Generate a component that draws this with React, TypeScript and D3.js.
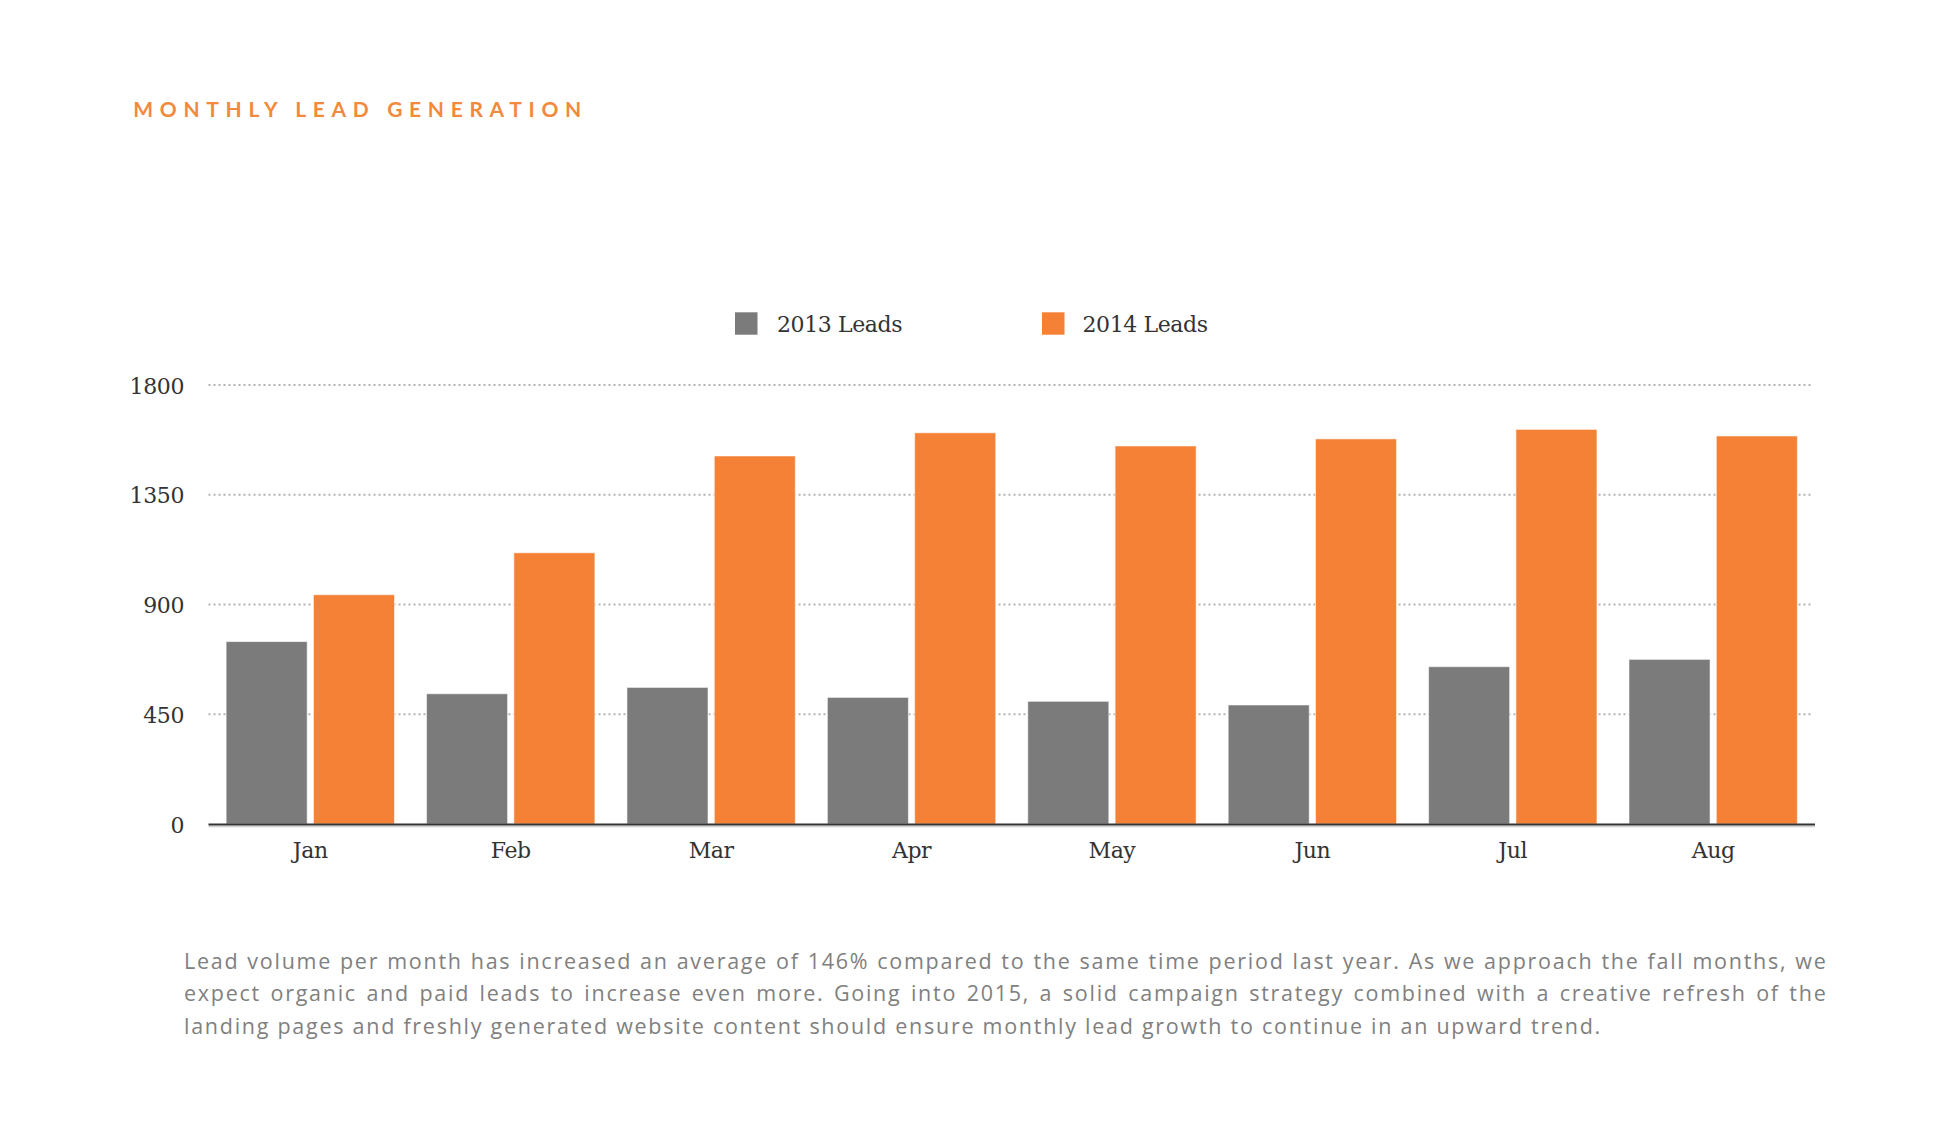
import React, { useLayoutEffect, useRef, useState } from "react";
import * as d3 from "d3";

const MONTHS = ["Jan", "Feb", "Mar", "Apr", "May", "Jun", "Jul", "Aug"];
const SERIES = ["2013 Leads", "2014 Leads"];
const LEADS_2013 = [748, 534, 560, 519, 503, 488, 645, 675];
const LEADS_2014 = [940, 1112, 1509, 1604, 1550, 1579, 1618, 1591];
const Y_TICKS = [0, 450, 900, 1350, 1800];
const TITLE = "MONTHLY LEAD GENERATION";
const PARAGRAPH_LINES = [
  "Lead volume per month has increased an average of 146% compared to the same time period last year. As we approach the fall months, we",
  "expect organic and paid leads to increase even more. Going into 2015, a solid campaign strategy combined with a creative refresh of the",
  "landing pages and freshly generated website content should ensure monthly lead growth to continue in an upward trend.",
];

const W = 1954;
const H = 1142;
const GRAY = "#7b7b7b";
const ORANGE = "#f48135";
const COLORS = [GRAY, ORANGE];
const SERIF = "'DejaVu Serif', serif";
const SANS = "Lato, 'Open Sans', sans-serif";
const BODY = "'Open Sans', Lato, sans-serif";

const PLOT = { left: 208.5, right: 1815, top: 385, bottom: 824 };
const PARA = { left: 184, right: 1827.5, lastRight: 1602, top: 969, lineH: 32.3 };

export default function App() {
  const x0 = d3
    .scaleBand<string>()
    .domain(MONTHS)
    .range([PLOT.left, PLOT.right])
    .paddingInner(0.16)
    .paddingOuter(0.088);
  const x1 = d3
    .scaleBand<string>()
    .domain(SERIES)
    .range([0, x0.bandwidth()])
    .paddingInner(0.072);
  const y = d3.scaleLinear().domain([0, 1800]).range([PLOT.bottom, PLOT.top]);

  const values = [LEADS_2013, LEADS_2014];

  const lineRefs = useRef<(SVGTextElement | null)[]>([]);
  const [layout, setLayout] = useState<{ ls: number; ws: number[] }>({ ls: 0, ws: [0, 0, 0] });
  useLayoutEffect(() => {
    const target = PARA.right - PARA.left;
    const n = PARAGRAPH_LINES.length;
    const widths = PARAGRAPH_LINES.map((_, i) => {
      const el = lineRefs.current[i];
      return el ? el.getComputedTextLength() : 0;
    });
    const last = PARAGRAPH_LINES[n - 1];
    const ls = (PARA.lastRight - PARA.left - widths[n - 1]) / last.length;
    const ws = PARAGRAPH_LINES.map((line, i) => {
      if (i === n - 1) return 0;
      const natural = widths[i] + ls * line.length;
      const spaces = (line.match(/ /g) || []).length;
      return spaces ? (target - natural) / spaces : 0;
    });
    setLayout({ ls, ws });
  }, []);

  return (
    <div style={{ position: "absolute", left: 0, top: 0, width: W, height: H, background: "#fff" }}>
      <svg width={W} height={H} viewBox={`0 0 ${W} ${H}`}>
        <rect x={0} y={0} width={W} height={H} fill="#fff" />
        {/* Title */}
        <text
          x={133.3}
          y={116.7}
          fill="#f28a3e"
          fontFamily={SANS}
          fontWeight={700}
          fontSize={21}
          textLength={448}
          lengthAdjust="spacing"
        >
          {TITLE}
        </text>

        {/* Legend */}
        <g>
          {[
            { box: 735, text: 777 },
            { box: 1042, text: 1082.5 },
          ].map((p, i) => (
            <g key={SERIES[i]}>
              <rect x={p.box} y={312.3} width={22.5} height={22.4} fill={COLORS[i]} />
              <text
                x={p.text}
                y={332.3}
                fill="#333"
                fontFamily={SERIF}
                fontSize={22}
                letterSpacing={-0.4}
              >
                {SERIES[i]}
              </text>
            </g>
          ))}
        </g>

        {/* Gridlines */}
        {Y_TICKS.filter((t) => t > 0).map((t) => (
          <line
            key={t}
            x1={PLOT.left}
            x2={PLOT.right - 2}
            y1={y(t)}
            y2={y(t)}
            stroke="#b3b3b3"
            strokeWidth={2}
            strokeDasharray="2 3"
          />
        ))}

        {/* Y tick labels */}
        {Y_TICKS.map((t) => (
          <text
            key={t}
            x={184}
            y={y(t) + 8.5}
            textAnchor="end"
            fill="#333"
            fontFamily={SERIF}
            fontSize={22}
            letterSpacing={-0.4}
          >
            {t}
          </text>
        ))}

        {/* Bars */}
        {MONTHS.map((m, mi) => (
          <g key={m} transform={`translate(${x0(m)},0)`}>
            {SERIES.map((s, si) => {
              const v = values[si][mi];
              return (
                <rect
                  key={s}
                  x={x1(s)}
                  y={y(v)}
                  width={x1.bandwidth()}
                  height={y(0) - y(v)}
                  fill={COLORS[si]}
                  stroke="rgba(255,255,255,0.55)"
                  strokeWidth={1}
                />
              );
            })}
          </g>
        ))}

        {/* Axis line */}
        <line x1={PLOT.left} x2={PLOT.right} y1={PLOT.bottom + 2.4} y2={PLOT.bottom + 2.4} stroke="#d0d0d0" strokeWidth={1.5} />
        <line x1={PLOT.left} x2={PLOT.right} y1={PLOT.bottom + 0.5} y2={PLOT.bottom + 0.5} stroke="#333" strokeWidth={2} />

        {/* X labels */}
        {MONTHS.map((m) => (
          <text
            key={m}
            x={(x0(m) as number) + x0.bandwidth() / 2}
            y={857.5}
            textAnchor="middle"
            fill="#333"
            fontFamily={SERIF}
            fontSize={22}
            letterSpacing={-0.4}
          >
            {m}
          </text>
        ))}

        {/* Paragraph */}
        {PARAGRAPH_LINES.map((line, i) => (
          <text
            key={i}
            ref={(el) => {
              lineRefs.current[i] = el;
            }}
            x={PARA.left}
            y={PARA.top + i * PARA.lineH}
            fill="#808080"
            fontFamily={BODY}
            fontSize={21.5}
            letterSpacing={layout.ls}
            wordSpacing={layout.ws[i]}
          >
            {line}
          </text>
        ))}
      </svg>
    </div>
  );
}
